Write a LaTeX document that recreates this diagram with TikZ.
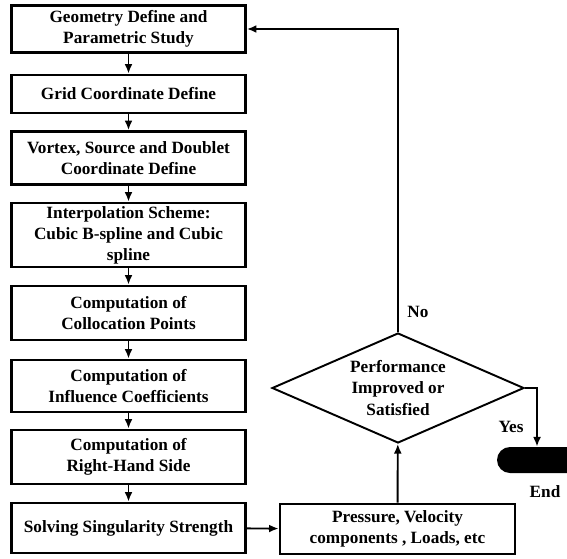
\documentclass[tikz,border=0pt]{standalone}
\usepackage{fontspec}
\setmainfont{Liberation Serif}
\usetikzlibrary{arrows.meta, positioning, shapes.geometric}

\begin{document}
\begin{tikzpicture}[
  x=0.02cm, y=-0.02cm,
  every node/.style={font=\fontsize{9.8}{12}\selectfont\bfseries, align=center},
  stepbox/.style={draw, line width=1.5pt, minimum width=4.68cm, inner sep=1pt},
  decision/.style={draw, line width=1.1pt, diamond, aspect=2.3, inner sep=0pt,
    minimum width=5.04cm, minimum height=2.2cm},
  terminal/.style={fill=black, rounded corners=0.26cm, minimum width=1.72cm, minimum height=0.52cm},
  arr/.style={line width=1.1pt, -{Latex[length=5.5pt, width=4.5pt]}}
]
  \useasboundingbox (0,0) rectangle (567,558);

  % main column
  \node[stepbox, minimum height=0.94cm] (geom) at (128.5,29) {Geometry Define and\\Parametric Study};
  \node[stepbox, minimum height=0.76cm] (grid) at (128.5,94) {Grid Coordinate Define};
  \node[stepbox, minimum height=1.06cm] (sing) at (128.5,158) {Vortex, Source and Doublet\\Coordinate Define};
  \node[stepbox, minimum height=1.28cm] (interp) at (128.5,235) {Interpolation Scheme:\\Cubic B-spline and Cubic\\spline};
  \node[stepbox, minimum height=1.08cm] (colloc) at (128.5,313) {Computation of\\Collocation Points};
  \node[stepbox, minimum height=1.04cm] (infl) at (128.5,386) {Computation of\\Influence Coefficients};
  \node[stepbox, minimum height=1.08cm] (rhs) at (128.5,457) {Computation of\\Right-Hand Side};
  \node[stepbox, minimum height=1.0cm] (solve) at (128.5,528) {Solving Singularity Strength};

  % right column
  \node[stepbox, minimum width=4.7cm, minimum height=1.0cm] (press) at (397.5,529) {Pressure, Velocity\\components , Loads, etc};
  \node[decision] (perf) at (398,388) {Performance\\Improved or\\Satisfied};
  \node[terminal] (stop) at (540,460) {};
  \coordinate (yesturn) at (537,388);

  \draw[arr] (geom) -- (grid);
  \draw[arr] (grid) -- (sing);
  \draw[arr] (sing) -- (interp);
  \draw[arr] (interp) -- (colloc);
  \draw[arr] (colloc) -- (infl);
  \draw[arr] (infl) -- (rhs);
  \draw[arr] (rhs) -- (solve);
  \draw[arr] (solve) -- (press);
  \draw[arr] (press) -- (perf);
  \draw[arr] (perf.north) |- (geom.east);
  \draw[arr] (perf.east) -- (yesturn) -- (yesturn |- stop.north);

  \node at (418,312) {No};
  \node at (511,427) {Yes};
  \node at (545,492) {End};
\end{tikzpicture}
\end{document}
